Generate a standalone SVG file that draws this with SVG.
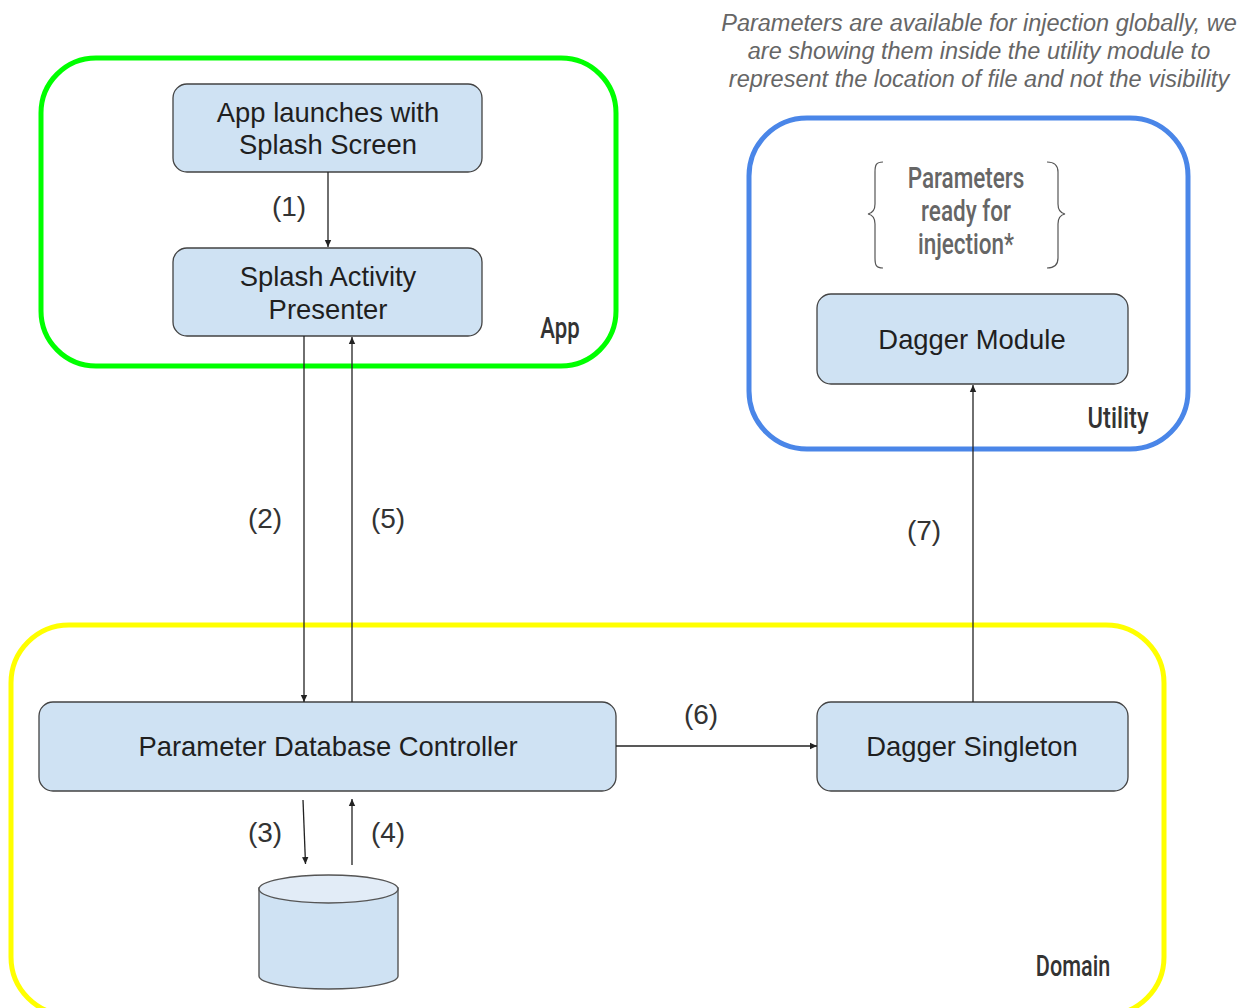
<svg xmlns="http://www.w3.org/2000/svg" width="1251" height="1008" viewBox="0 0 1251 1008">
<style>
.box{fill:#cfe2f3;stroke:#434343;stroke-width:1.3}
.t{font-family:"Liberation Sans",Arial,sans-serif;font-size:27.400px;fill:#1f1f1f;text-anchor:middle}
.l{font-family:"Liberation Sans",Arial,sans-serif;font-size:28px;fill:#333;text-anchor:middle}
.c{font-family:"Roboto","Liberation Sans",sans-serif;font-size:30px;font-weight:500;fill:#333;text-anchor:middle}
.i{font-family:"Liberation Sans",Arial,sans-serif;font-size:23.500px;font-style:italic;fill:#666;text-anchor:middle}
.grp{fill:none;stroke-width:5}
.line{fill:none;stroke:#222;stroke-width:1.3;marker-end:url(#a)}
.br{fill:none;stroke:#555;stroke-width:1.2}
</style>
<defs><marker id="a" markerUnits="userSpaceOnUse" markerWidth="8" markerHeight="8" refX="7" refY="4" orient="auto"><path d="M0 0.8L7 4L0 7.2Z" fill="#222"/></marker></defs>
<rect width="1251" height="1008" fill="#fff"/>
<g id="group-app"><rect class="grp" x="41" y="58" width="575" height="308" rx="55" stroke="#00ff00"/><text class="c" transform="translate(560 338) scale(.74 1)">App</text></g>
<g id="group-utility"><rect class="grp" x="749" y="118" width="439" height="331" rx="58" stroke="#4a86e8"/><text class="c" transform="translate(1118 428) scale(.79 1)">Utility</text></g>
<g id="group-domain"><rect class="grp" x="11" y="625" width="1153" height="390" rx="58" stroke="#ffff00"/><text class="c" transform="translate(1073 976) scale(.72 1)">Domain</text></g>
<g id="note"><text class="i"><tspan x="979" y="31">Parameters are available for injection globally, we</tspan><tspan x="979" y="59">are showing them inside the utility module to</tspan><tspan x="979" y="87">represent the location of file and not the visibility</tspan></text></g>
<g id="splash-screen"><rect class="box" x="173" y="84" width="309" height="88" rx="14"/><text class="t"><tspan x="328" y="122">App launches with</tspan><tspan x="328" y="154">Splash Screen</tspan></text></g>
<g id="presenter"><rect class="box" x="173" y="248" width="309" height="88" rx="14"/><text class="t"><tspan x="328" y="286">Splash Activity</tspan><tspan x="328" y="319">Presenter</tspan></text></g>
<g id="params"><path class="br" d="M883 162C876 162 875 165 875 172V204C875 210 873 213 868 214C873 215 875 218 875 224V258C875 265 876 268 883 268"/><path class="br" d="M1047 162C1054 162 1058 165 1058 172V204C1058 210 1060 213 1065 214C1060 215 1058 218 1058 224V258C1058 265 1054 268 1047 268"/><g class="c" style="fill:#666"><text transform="translate(966 188) scale(.75 1)">Parameters</text><text transform="translate(966 221) scale(.75 1)">ready for</text><text transform="translate(966 254) scale(.75 1)">injection*</text></g></g>
<g id="dagger-module"><rect class="box" x="817" y="294" width="311" height="90" rx="14"/><text class="t" x="972" y="349">Dagger Module</text></g>
<g id="controller"><rect class="box" x="39" y="702" width="577" height="89" rx="14"/><text class="t" x="328" y="756">Parameter Database Controller</text></g>
<g id="dagger-singleton"><rect class="box" x="817" y="702" width="311" height="89" rx="14"/><text class="t" x="972" y="756">Dagger Singleton</text></g>
<g id="database"><path d="M259 888V976C259 983 290 989 328.500 989S398 983 398 976V888Z" fill="#cfe2f3" stroke="#555" stroke-width="1.4"/><ellipse cx="328.500" cy="889" rx="69.500" ry="14" fill="#e2ecf7" stroke="#555" stroke-width="1.4"/></g>
<g id="connectors">
<path class="line" d="M328 172V247"/><path class="line" d="M304 336V702"/><path class="line" d="M352 702V337"/><path class="line" d="M303 800L305.500 864"/><path class="line" d="M352 865V799"/><path class="line" d="M616 746H817"/><path class="line" d="M973 702V385"/>
<text class="l" x="289" y="216">(1)</text><text class="l" x="265" y="528">(2)</text><text class="l" x="388" y="528">(5)</text><text class="l" x="265" y="842">(3)</text><text class="l" x="388" y="842">(4)</text><text class="l" x="701" y="724">(6)</text><text class="l" x="924" y="540">(7)</text>
</g>
</svg>
